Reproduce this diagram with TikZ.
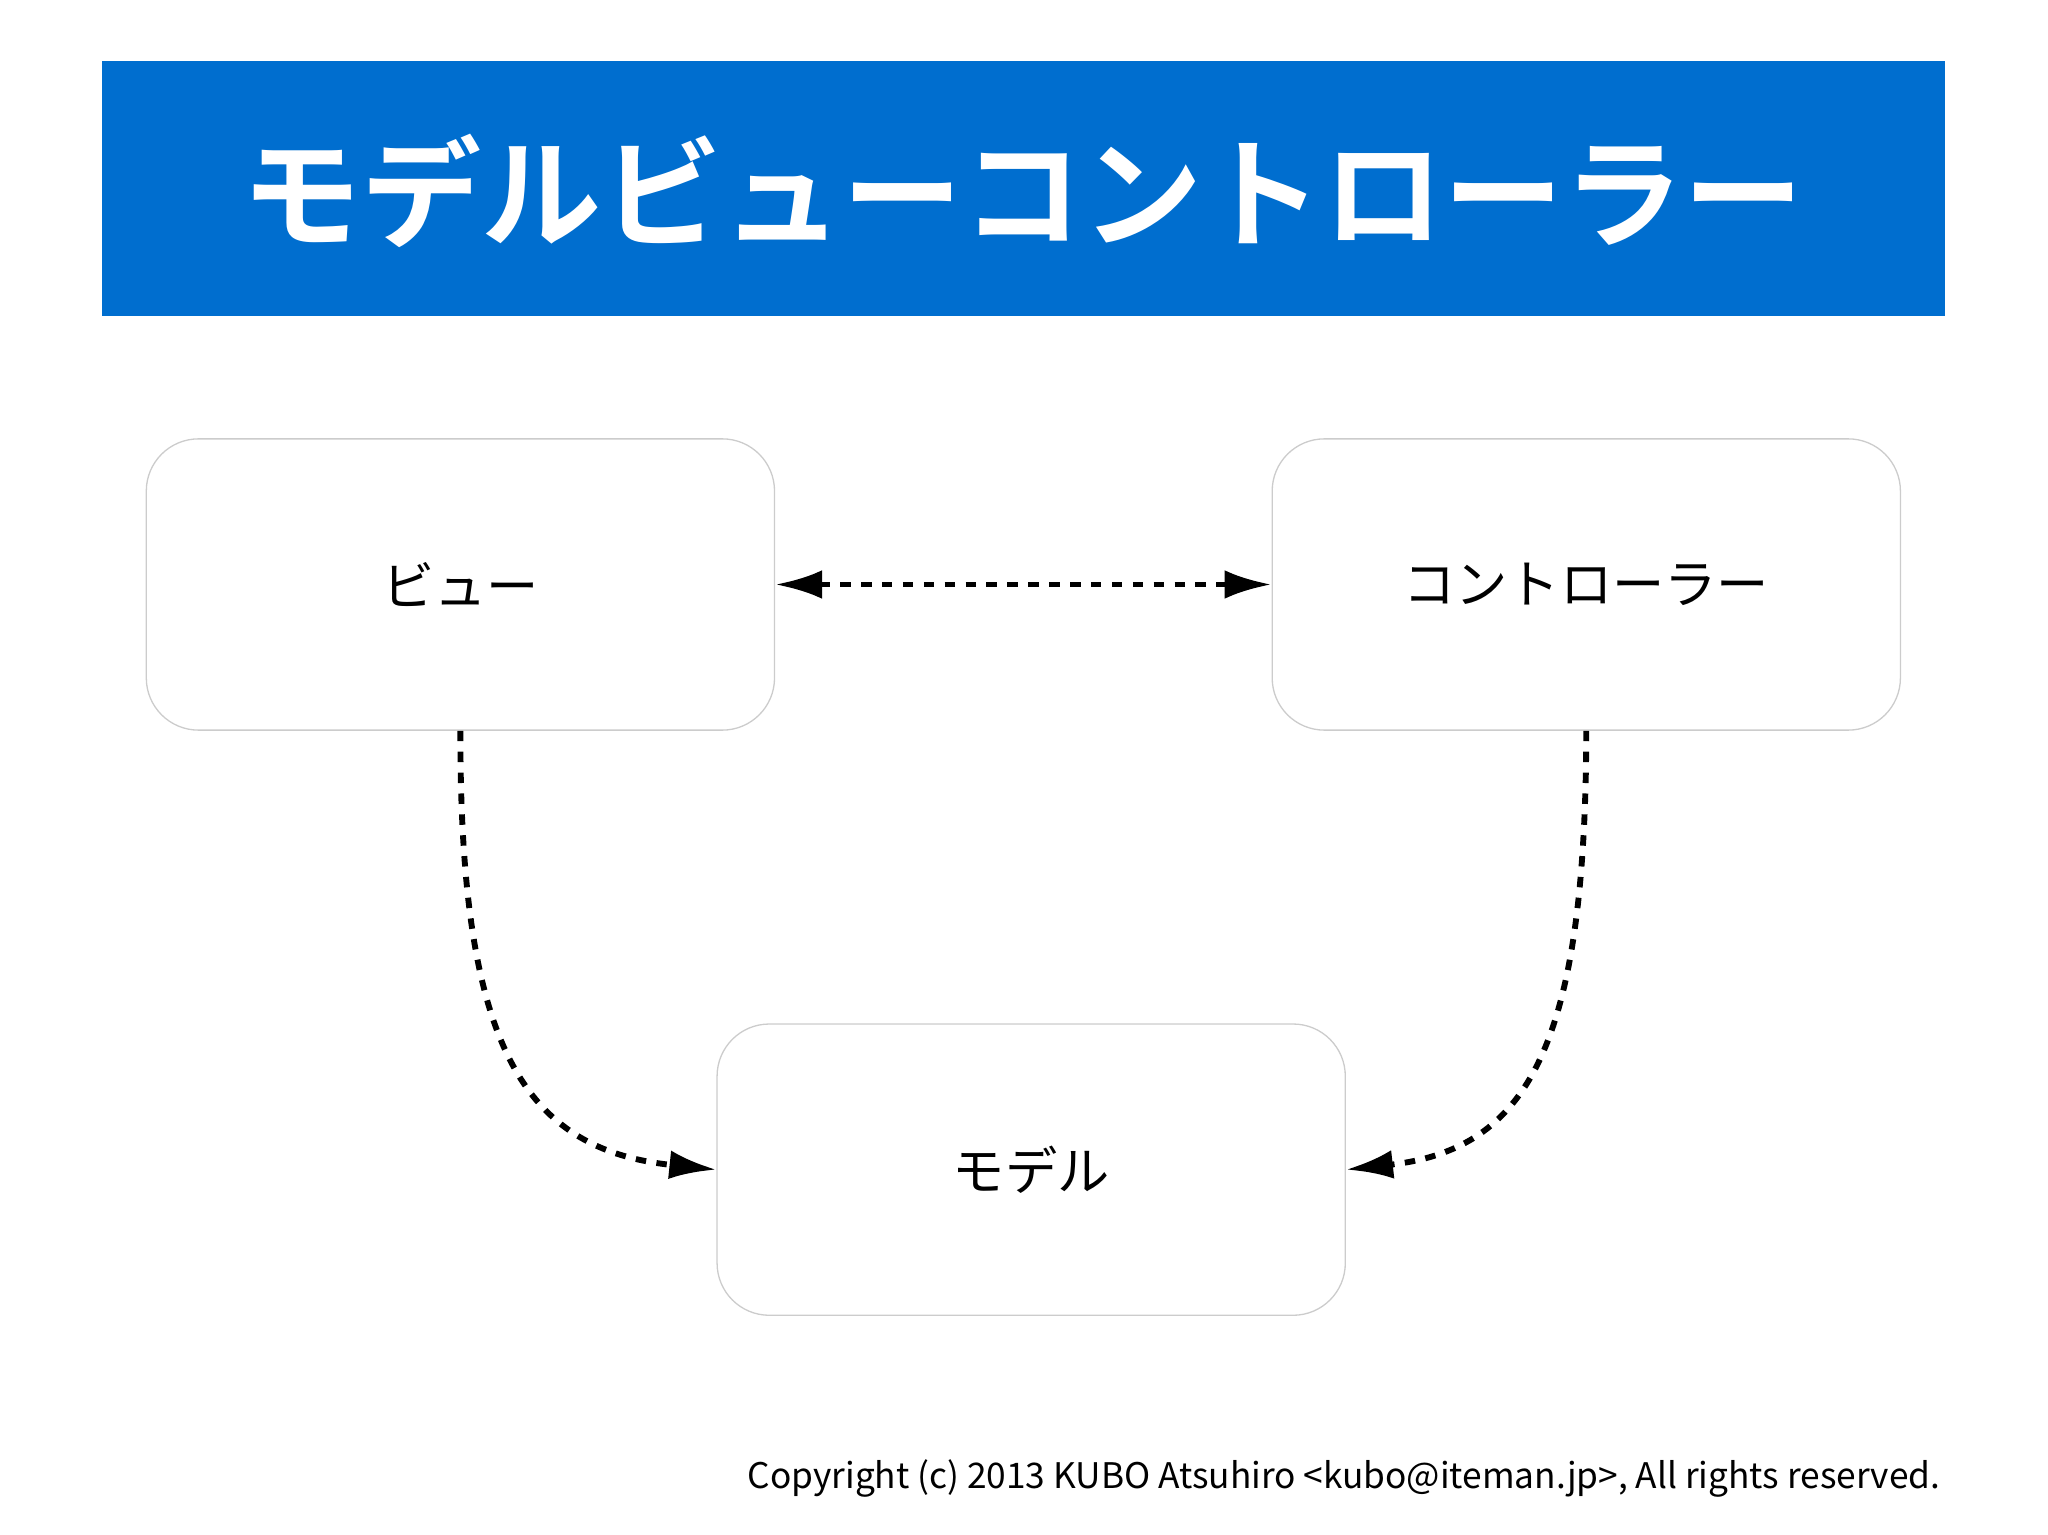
\documentclass[tikz,border=0pt]{standalone}
\usepackage{fontspec}
\newfontfamily\jp{Noto Sans CJK JP}
\newfontfamily\jpb{Noto Sans CJK JP Bold}
\usetikzlibrary{arrows.meta}
\definecolor{titleblue}{HTML}{006ECF}
\begin{document}
\begin{tikzpicture}[x=1pt,y=-1pt,
  box/.style={draw=black!20,line width=1pt,rounded corners=40pt,minimum width=481pt,minimum height=223pt,fill=white,font=\jp\fontsize{40}{40}\selectfont},
  conn/.style={line width=4.5pt,dash pattern=on 8pt off 8pt,-{Latex[length=36pt,width=22pt]}}]
\useasboundingbox (0,0) rectangle (1568,1175);
\fill[titleblue] (78,47) rectangle (1489,242);
\node[text=white,font=\jpb\fontsize{92}{92}\selectfont] (title) at (783,146) {モデルビューコントローラー};
\node[box] (view) at (352.5,447.5) {ビュー};
\node[box] (ctrl) at (1214.5,447.5) {コントローラー};
\node[box] (model) at (789.5,895.5) {モデル};
\draw[conn,{Latex[length=36pt,width=22pt]}-{Latex[length=36pt,width=22pt]}] (view.east) -- (ctrl.west);
\draw[conn] (view.south) .. controls (352,800) and (400,880) .. (model.west);
\draw[conn] (ctrl.south) .. controls (1214,800) and (1170,880) .. (model.east);
\node[anchor=east,font=\jp\fontsize{27}{27}\selectfont] (copy) at (1489,1132) {Copyright (c) 2013 KUBO Atsuhiro <kubo@iteman.jp>, All rights reserved.};
\end{tikzpicture}
\end{document}
